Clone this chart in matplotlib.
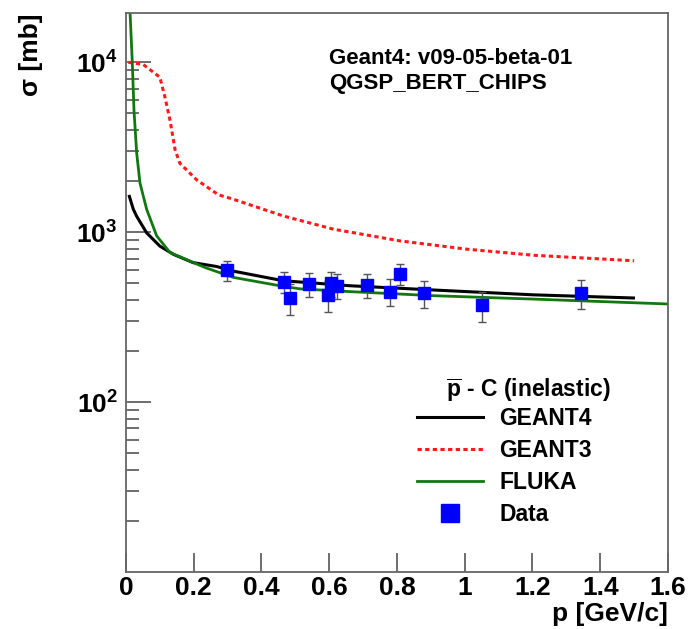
import matplotlib
matplotlib.use("Agg")
import matplotlib.pyplot as plt
from matplotlib.lines import Line2D
from matplotlib.ticker import FixedLocator, NullFormatter, NullLocator

plt.rcParams['font.family'] = ['Liberation Sans', 'DejaVu Sans']
plt.rcParams['font.weight'] = 'bold'
plt.rcParams['axes.labelweight'] = 'bold'
plt.rcParams['mathtext.fontset'] = 'custom'
plt.rcParams['mathtext.rm'] = 'Liberation Sans:bold'
plt.rcParams['mathtext.bf'] = 'Liberation Sans:bold'
plt.rcParams['mathtext.it'] = 'Liberation Sans:bold'

# GEANT4 curve
g4_p = [0.010, 0.0216, 0.0316, 0.061, 0.10, 0.14, 0.198, 0.268, 0.317, 0.464,
        0.661, 0.907, 1.202, 1.498]
g4_sigma = [1625, 1365, 1240, 991, 828, 741, 662, 628, 590, 518,
            484, 457, 428, 410]

# GEANT3 curve
g3_p = [0.007, 0.051, 0.100, 0.115, 0.130, 0.145, 0.159, 0.209, 0.273, 0.317,
        0.464, 0.613, 0.809, 1.005, 1.202, 1.500]
g3_sigma = [10000, 9700, 8170, 6240, 4560, 3050, 2545, 2030, 1660, 1563,
            1247, 1041, 889, 795, 732, 679]

# FLUKA curve
fluka_p = [0.0100, 0.0118, 0.0186, 0.0236, 0.0316, 0.0413, 0.061, 0.0906, 0.13,
           0.233, 0.317, 0.464, 0.514, 0.661, 0.907, 1.202, 1.600]
fluka_sigma = [40000, 20000, 10000, 5220, 2915, 1946, 1364, 951, 759,
               620, 542, 480, 464, 447, 423, 404, 378]

# measured points
data_p = [0.299, 0.467, 0.484, 0.541, 0.604, 0.597, 0.622, 0.711, 0.779, 0.809,
          0.880, 1.050, 1.343]
data_sigma = [598, 511, 410, 498, 500, 427, 484, 489, 447, 569, 436, 371, 438]
data_err = [80, 72, 85, 80, 85, 90, 80, 80, 80, 80, 80, 75, 85]

fig = plt.figure(figsize=(6.9, 6.29), dpi=100)
ax = fig.add_axes([0.1826, 0.0906, 0.7855, 0.8887])

ax.plot(g4_p, g4_sigma, color='black', lw=2.2, label='GEANT4')
ax.plot(g3_p, g3_sigma, color='#ff1a1a', lw=2.2, ls=(0, (1.4, 1.1)), label='GEANT3')
ax.plot(fluka_p, fluka_sigma, color='#117711', lw=2.0, label='FLUKA')
ax.errorbar(data_p, data_sigma, yerr=data_err, fmt='s', color='#0000ff',
            ms=9, ecolor='#555555', elinewidth=1.0, capsize=3, capthick=1.0,
            label='Data', zorder=5)

ax.set_yscale('log')
ax.set_xlim(0, 1.6)
ax.set_ylim(10, 19500)

ax.set_xticks([0, 0.2, 0.4, 0.6, 0.8, 1.0, 1.2, 1.4, 1.6])
ax.set_xticklabels(['0', '0.2', '0.4', '0.6', '0.8', '1', '1.2', '1.4', '1.6'])
ax.xaxis.set_minor_locator(NullLocator())
ax.yaxis.set_major_locator(FixedLocator([1e2, 1e3, 1e4]))
ax.set_yticklabels([r'$10^{2}$', r'$10^{3}$', r'$10^{4}$'])
minors = [m * 10 ** e for e in range(1, 5) for m in range(2, 10)]
ax.yaxis.set_minor_locator(FixedLocator(minors))
ax.yaxis.set_minor_formatter(NullFormatter())

ax.tick_params(axis='both', which='both', direction='in', color='#555555',
               width=1.2, labelsize=19, top=False, right=False)
ax.tick_params(axis='x', which='major', length=14, pad=3)
ax.tick_params(axis='y', which='major', length=18, pad=6)
ax.tick_params(axis='y', which='minor', length=9)
for s in ax.spines.values():
    s.set_color('#666666')
    s.set_linewidth(1.3)

ax.set_xlabel('p [GeV/c]', fontsize=19, fontweight='bold', loc='right', labelpad=1)
ax.set_ylabel('σ [mb]', fontsize=19, fontweight='bold', loc='top', labelpad=24)

ax.text(0.375, 0.937, 'Geant4: v09-05-beta-01\nQGSP_BERT_CHIPS',
        transform=ax.transAxes, fontsize=16, linespacing=1.25, va='top')

ax.text(0.59, 0.313, r'$\overline{\mathbf{p}}$ - C (inelastic)',
        transform=ax.transAxes, fontsize=16.5)

handles = [Line2D([], [], color='black', lw=2.2),
           Line2D([], [], color='#ff1a1a', lw=2.2, ls=(0, (1.4, 1.1))),
           Line2D([], [], color='#117711', lw=2.0),
           Line2D([], [], marker='s', color='#0000ff', ls='none', ms=13)]
ax.legend(handles, ['GEANT4', 'GEANT3', 'FLUKA', 'Data'],
          loc='upper left', bbox_to_anchor=(0.52, 0.312), frameon=False,
          fontsize=16.5, handlelength=2.9, handletextpad=0.7,
          labelspacing=0.4, borderaxespad=0)

fig.savefig('out.png', dpi=100, facecolor='white')
